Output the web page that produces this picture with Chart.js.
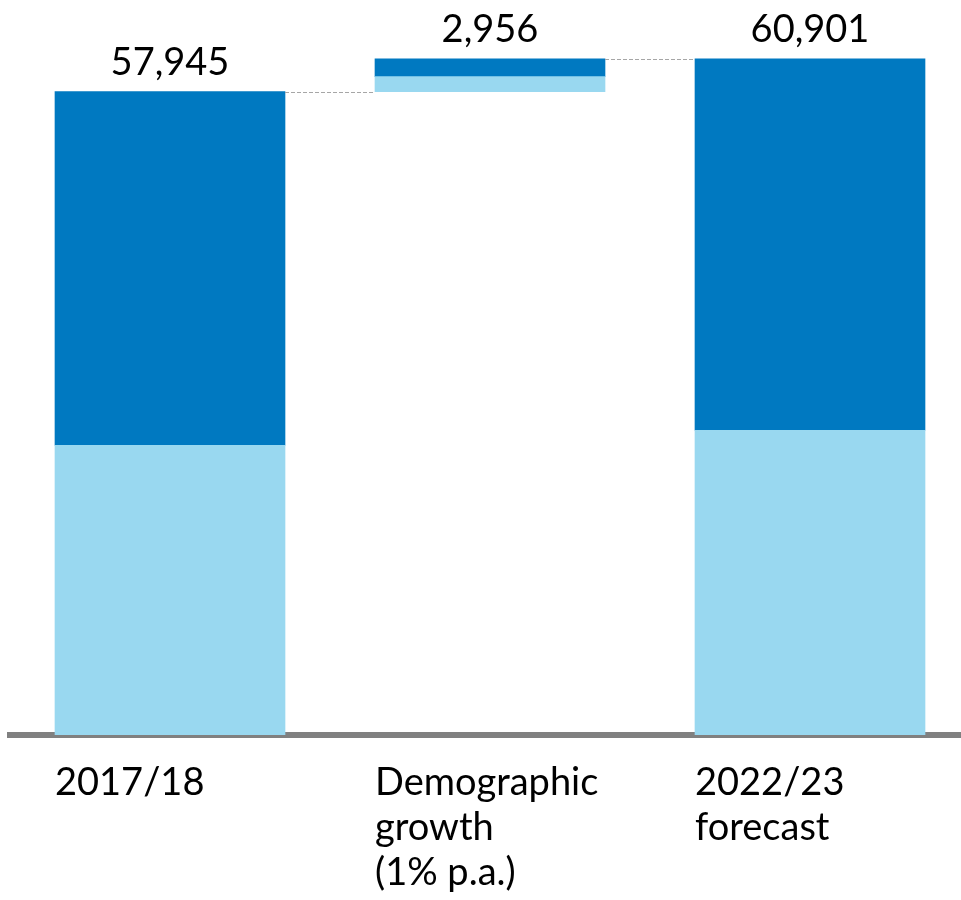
<!DOCTYPE html>
<html>
<head>
<meta charset="utf-8">
<script src="https://cdn.jsdelivr.net/npm/chart.js@4.4.1/dist/chart.umd.min.js"></script>
<style>
  html, body { margin: 0; padding: 0; background: #fff; }
  #wrap { width: 961px; height: 900px; }
</style>
</head>
<body>
<div id="wrap"><canvas id="waterfall-chart"></canvas></div>
<script>
// categories (multi-line) and the values behind each column
const categories = [["2017/18"], ["Demographic", "growth", "(1% p.a.)"], ["2022/23", "forecast"]];
const totals = [57945, 2956, 60901];
const lightPart = [26100, 1350, 27450];
const darkPart = [31845, 1606, 33451];
// invisible base so the growth column floats on top of the first one
const offsets = [0, totals[0], 0];

const positions = categories.map((c, i) => i);
const toPoints = arr => arr.map((v, i) => ({x: positions[i], y: v}));

const labelFont = '38px Lato';

const waterfallLabels = {
  id: 'waterfallLabels',
  afterDraw(chart) {
    const ctx = chart.ctx;
    const topBars = chart.getDatasetMeta(2).data;
    const area = chart.chartArea;
    ctx.save();

    // dashed connectors between the columns
    ctx.strokeStyle = '#a6a6a6';
    ctx.lineWidth = 1;
    ctx.setLineDash([4, 2]);
    for (let i = 0; i < topBars.length - 1; i++) {
      const a = topBars[i];
      const b = topBars[i + 1];
      const y = Math.round(a.y) + 0.5;
      ctx.beginPath();
      ctx.moveTo(a.x + a.width / 2, y);
      ctx.lineTo(b.x - b.width / 2, y);
      ctx.stroke();
    }
    ctx.setLineDash([]);

    ctx.fillStyle = '#000';
    ctx.font = labelFont;
    ctx.textBaseline = 'alphabetic';

    // totals above each column
    ctx.textAlign = 'center';
    topBars.forEach((bar, i) => {
      ctx.fillText(totals[i].toLocaleString('en-US'), bar.x, bar.y - 17);
    });

    // category names, left aligned with the column
    ctx.textAlign = 'left';
    topBars.forEach((bar, i) => {
      categories[i].forEach((line, k) => {
        ctx.fillText(line, bar.x - bar.width / 2, area.bottom + 60 + k * 45);
      });
    });
    ctx.restore();
  }
};

new Chart(document.getElementById('waterfall-chart'), {
  type: 'bar',
  data: {
    datasets: [
      {
        label: 'Base',
        data: toPoints(offsets),
        backgroundColor: 'rgba(0,0,0,0)'
      },
      {
        label: 'Light',
        data: toPoints(lightPart),
        backgroundColor: '#99d8f0'
      },
      {
        label: 'Dark',
        data: toPoints(darkPart),
        backgroundColor: '#0079c1'
      }
    ]
  },
  options: {
    responsive: true,
    maintainAspectRatio: false,
    animation: false,
    barThickness: 230,
    layout: {
      padding: {left: 10, right: 0, top: 10, bottom: 165}
    },
    plugins: {
      legend: {display: false},
      tooltip: {enabled: false}
    },
    scales: {
      x: {
        type: 'linear',
        stacked: true,
        offset: false,
        min: -0.5,
        max: -0.5 + 951 / 320,
        z: 1,
        ticks: {display: false},
        grid: {display: false, drawTicks: false, offset: false},
        border: {display: true, color: '#808080', width: 6}
      },
      y: {
        stacked: true,
        display: false,
        min: 0,
        max: 65300
      }
    }
  },
  plugins: [waterfallLabels]
});
</script>
</body>
</html>
